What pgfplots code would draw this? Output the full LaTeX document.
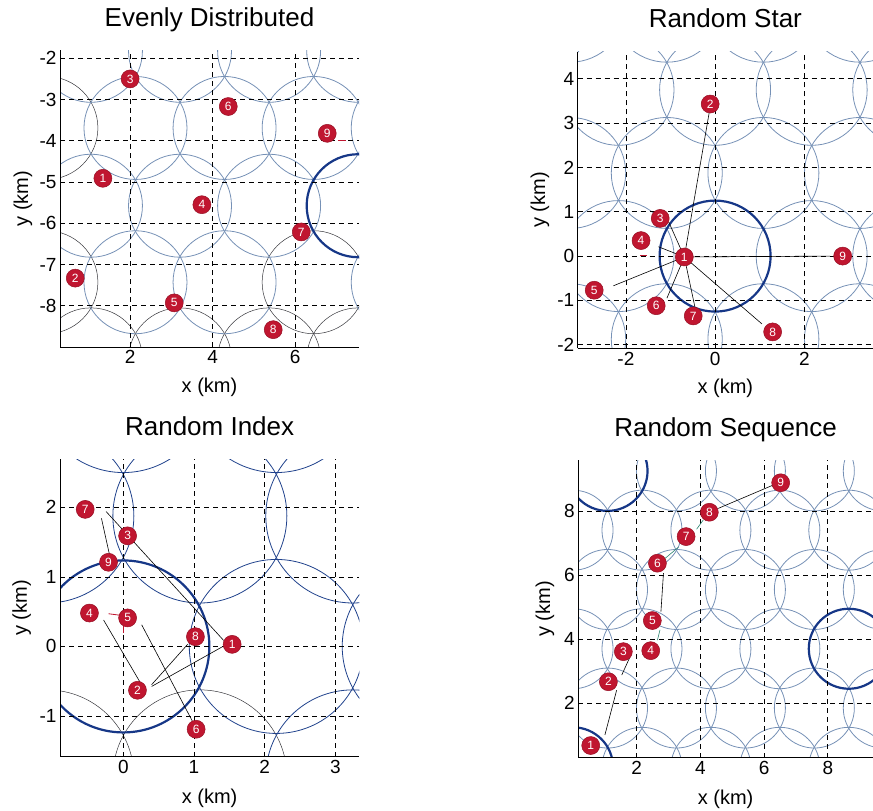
\documentclass[border=0pt]{standalone}
\usepackage{pgfplots}
\pgfplotsset{compat=1.18}
\usepackage{fontspec}
\setmainfont{Liberation Sans}
\definecolor{cellc}{RGB}{118,145,182}
\definecolor{navyc}{RGB}{32,66,140}
\definecolor{thickc}{RGB}{22,55,135}
\definecolor{mred}{RGB}{192,22,48}
\definecolor{mredd}{RGB}{150,15,35}
\definecolor{tealc}{RGB}{40,130,110}
\definecolor{darkc}{RGB}{55,55,60}

\pgfplotsset{
  panel/.style={
    scale only axis,
    anchor=south west,
    axis lines*=left,
    axis line style={black, line width=0.9pt},
    grid=major,
    major grid style={black, line width=0.7pt, dash pattern=on 5pt off 4pt},
    tick align=inside,
    major tick length=4pt,
    tick style={black, line width=0.6pt},
    tick label style={font=\fontsize{19}{19}\selectfont},
    /pgf/number format/assume math mode=true,
    label style={font=\fontsize{20}{20}\selectfont},
    title style={font=\fontsize{26}{26}\selectfont, at={(axis description cs:0.5,1)}, anchor=base, inner sep=0pt, yshift=18pt},
    xlabel={x (km)}, ylabel={y (km)},
  },
  helper/.style={scale only axis, anchor=south west, hide axis, clip=false},
  cells/.style={only marks, mark=o, mark size=#1, color=cellc, line width=0.8pt},
  cellsnavy/.style={only marks, mark=o, mark size=#1, color=navyc, line width=0.8pt},
  cellsblack/.style={only marks, mark=o, mark size=#1, color=darkc, line width=0.5pt},
  thickcell/.style={only marks, mark=o, mark size=#1, color=thickc, line width=2.2pt},
  seg/.style={black, line width=0.6pt},
  redseg/.style={mred, line width=0.8pt},
  nums/.style={only marks, mark=*, mark size=9pt,
    mark options={fill=mred, draw=mredd, line width=0.5pt},
    nodes near coords, point meta=explicit symbolic,
    every node near coord/.append style={anchor=center, text=white, inner sep=0pt, font=\fontsize{12}{12}\selectfont}},
}

\begin{document}
\begin{tikzpicture}
\useasboundingbox (0pt,0pt) rectangle (873pt,-811pt);

% ================= Evenly Distributed =================
\begin{scope}
\clip (60pt,-347pt) rectangle (359pt,-50pt);
\begin{axis}[helper, at={(-14.23pt,-408.875pt)}, width=453.65pt, height=420.75pt,
  xmin=-1.5, xmax=9.5, ymin=-10.5, ymax=-0.3]
\addplot[cellsblack=51.5pt] table {
x y
-0.03 -3.69
-0.03 -7.43
6.45 -7.43
1.05 -9.30
3.21 -9.30
5.37 -9.30
7.53 -9.30
};
\addplot[cells=51.5pt] table {
x y
1.05 -1.82
3.21 -1.82
5.37 -1.82
7.53 -1.82
2.13 -3.69
4.29 -3.69
6.45 -3.69
8.61 -3.69
1.05 -5.575
3.21 -5.575
5.37 -5.575
7.53 -5.575
2.13 -7.43
4.29 -7.43
8.61 -7.43
};
\addplot[thickcell=51.5pt] table {
x y
7.53 -5.575
};
\end{axis}
\end{scope}
\begin{axis}[panel, at={(60pt,-347pt)}, width=299pt, height=297pt,
  xmin=0.30, xmax=7.55, ymin=-9.0, ymax=-1.8,
  xtick={2,4,6}, ytick={-8,-7,-6,-5,-4,-3,-2},
  yticklabels={-8,-7,-6,-5,-4,-3,-2},
  title={Evenly Distributed},
  xlabel style={at={(axis description cs:0.5,-0.137)}, anchor=center},
  ylabel style={at={(axis description cs:-0.124,0.5)}, anchor=center}]
\addplot[redseg] coordinates {(7.05,-4.0) (7.23,-4.0)};
\addplot[nums] table[x=x, y=y, meta=n] {
n x y
1 1.34 -4.91
2 0.67 -7.33
3 2.00 -2.50
4 3.74 -5.55
5 3.07 -7.93
6 4.38 -3.17
7 6.15 -6.21
8 5.47 -8.58
9 6.78 -3.82
};
\end{axis}

% ================= Random Star =================
\begin{scope}
\clip (577.7pt,-348.3pt) rectangle (873pt,-51.7pt);
\begin{axis}[helper, at={(514.36pt,-411.26pt)}, width=446.07pt, height=465.52pt,
  xmin=-4.5, xmax=5.5, ymin=-3.5, ymax=7]
\addplot[cells=55.5pt] table {
x y
-3.248 -1.875
-1.083 -1.875
1.083 -1.875
3.248 -1.875
-2.165 0
2.165 0
4.33 0
-3.248 1.875
-1.083 1.875
1.083 1.875
3.248 1.875
-2.165 3.75
0 3.75
2.165 3.75
4.33 3.75
-3.248 5.625
-1.083 5.625
1.083 5.625
3.248 5.625
};
\addplot[thickcell=55.5pt] table {
x y
0 0
};
\end{axis}
\end{scope}
\begin{axis}[panel, at={(577.7pt,-348.3pt)}, width=295.3pt, height=296.6pt,
  xmin=-3.08, xmax=3.54, ymin=-2.08, ymax=4.61,
  xtick={-2,0,2}, xticklabels={-2,0,2},
  ytick={-2,-1,0,1,2,3,4}, yticklabels={-2,-1,0,1,2,3,4},
  title={Random Star},
  xlabel style={at={(axis description cs:0.5,-0.135)}, anchor=center},
  ylabel style={at={(axis description cs:-0.128,0.5)}, anchor=center}]
\addplot[seg] coordinates {(-0.69,-0.02) (-0.07,3.60)};
\addplot[seg] coordinates {(-0.69,-0.02) (-1.04,0.77)};
\addplot[seg] coordinates {(-0.69,-0.02) (-1.27,0.21)};
\addplot[seg] coordinates {(-0.69,-0.02) (-2.28,-0.67)};
\addplot[seg] coordinates {(-0.69,-0.02) (-1.08,-0.95)};
\addplot[seg] coordinates {(-0.69,-0.02) (-0.45,-1.16)};
\addplot[seg] coordinates {(-0.69,-0.02) (1.05,-1.53)};
\addplot[seg] coordinates {(-0.69,-0.02) (2.58,0.0)};
\addplot[redseg] coordinates {(-1.68,0.02) (-1.52,0.02)};
\addplot[nums] table[x=x, y=y, meta=n] {
n x y
1 -0.69 -0.02
2 -0.11 3.43
3 -1.23 0.85
4 -1.66 0.35
5 -2.71 -0.77
6 -1.32 -1.12
7 -0.49 -1.35
8 1.29 -1.71
9 2.86 0.00
};
\end{axis}

% ================= Random Index =================
\begin{scope}
\clip (60pt,-756.7pt) rectangle (359.3pt,-459.3pt);
\begin{axis}[helper, at={(-53.24pt,-855.14pt)}, width=529.8pt, height=556.56pt,
  xmin=-2.5, xmax=5, ymin=-3, ymax=5]
\addplot[cellsblack=87pt] table {
x y
-1.083 -1.875
1.083 -1.875
};
\addplot[cellsnavy=87pt] table {
x y
3.248 -1.875
2.165 0
4.33 0
-1.083 1.875
1.083 1.875
3.248 1.875
0 3.75
2.165 3.75
};
\addplot[thickcell=86pt] table {
x y
0 0
};
\end{axis}
\end{scope}
\begin{axis}[panel, at={(60pt,-756.7pt)}, width=299.3pt, height=297.4pt,
  xmin=-0.897, xmax=3.34, ymin=-1.585, ymax=2.69,
  xtick={0,1,2,3}, xticklabels={0,1,2,3},
  ytick={-1,0,1,2}, yticklabels={-1,0,1,2},
  title={Random Index},
  xlabel style={at={(axis description cs:0.5,-0.14)}, anchor=center},
  ylabel style={at={(axis description cs:-0.128,0.5)}, anchor=center}]
\addplot[seg] coordinates {(-0.245,1.94) (1.42,0.086)};
\addplot[seg] coordinates {(-0.31,1.84) (-0.19,1.29)};
\addplot[seg] coordinates {(-0.28,0.38) (0.24,-0.52)};
\addplot[seg] coordinates {(0.26,0.31) (0.98,-1.08)};
\addplot[seg] coordinates {(0.40,-0.55) (0.91,0.03)};
\addplot[seg] coordinates {(0.40,-0.575) (1.41,0.0)};
\addplot[redseg] coordinates {(-0.21,0.47) (-0.02,0.445)};
\addplot[redseg] coordinates {(0,0.31) (0,0.20)};
\addplot[nums] table[x=x, y=y, meta=n] {
n x y
1 1.54 0.03
2 0.20 -0.63
3 0.06 1.59
4 -0.48 0.48
5 0.06 0.41
6 1.03 -1.19
7 -0.54 1.97
8 1.02 0.14
9 -0.21 1.21
};
\end{axis}

% ================= Random Sequence =================
\begin{scope}
\clip (578.3pt,-757.7pt) rectangle (873pt,-460pt);
\begin{axis}[helper, at={(525.28pt,-815.38pt)}, width=398.03pt, height=400.56pt,
  xmin=-1.5, xmax=11, ymin=-1.5, ymax=11]
\addplot[cells=40pt] table {
x y
0 0
2.165 0
4.33 0
6.495 0
8.66 0
1.083 1.85
3.248 1.85
5.413 1.85
7.578 1.85
9.743 1.85
0 3.7
2.165 3.7
4.33 3.7
6.495 3.7
8.66 3.7
1.083 5.55
3.248 5.55
5.413 5.55
7.578 5.55
9.743 5.55
0 7.4
2.165 7.4
4.33 7.4
6.495 7.4
8.66 7.4
1.083 9.25
3.248 9.25
5.413 9.25
7.578 9.25
9.743 9.25
};
\addplot[thickcell=40pt] table {
x y
0 0
1.083 9.25
8.66 3.7
};
\end{axis}
\end{scope}
\begin{axis}[panel, at={(578.3pt,-757.7pt)}, width=294.7pt, height=297.7pt,
  xmin=0.165, xmax=9.42, ymin=0.30, ymax=9.59,
  xtick={2,4,6,8}, xticklabels={2,4,6,8},
  ytick={2,4,6,8}, yticklabels={2,4,6,8},
  title={Random Sequence},
  xlabel style={at={(axis description cs:0.5,-0.139)}, anchor=center},
  ylabel style={at={(axis description cs:-0.113,0.5)}, anchor=center}]
\addplot[seg] coordinates {(1.00,1.01) (1.37,2.41)};
\addplot[seg] coordinates {(1.53,2.88) (1.79,3.45)};
\addplot[tealc, line width=0.6pt] coordinates {(2.65,3.97) (2.73,4.29)};
\addplot[seg] coordinates {(2.76,4.86) (2.84,6.06)};
\addplot[tealc, line width=0.6pt] coordinates {(2.89,6.52) (3.31,6.87)};
\addplot[tealc, line width=0.6pt] coordinates {(3.88,7.43) (4.09,7.72)};
\addplot[seg] coordinates {(4.56,8.08) (6.29,8.81)};
\addplot[nums] table[x=x, y=y, meta=n] {
n x y
1 0.555 0.68
2 1.11 2.67
3 1.58 3.61
4 2.44 3.64
5 2.49 4.58
6 2.65 6.37
7 3.55 7.20
8 4.28 7.96
9 6.52 8.88
};
\end{axis}
\end{tikzpicture}
\end{document}
